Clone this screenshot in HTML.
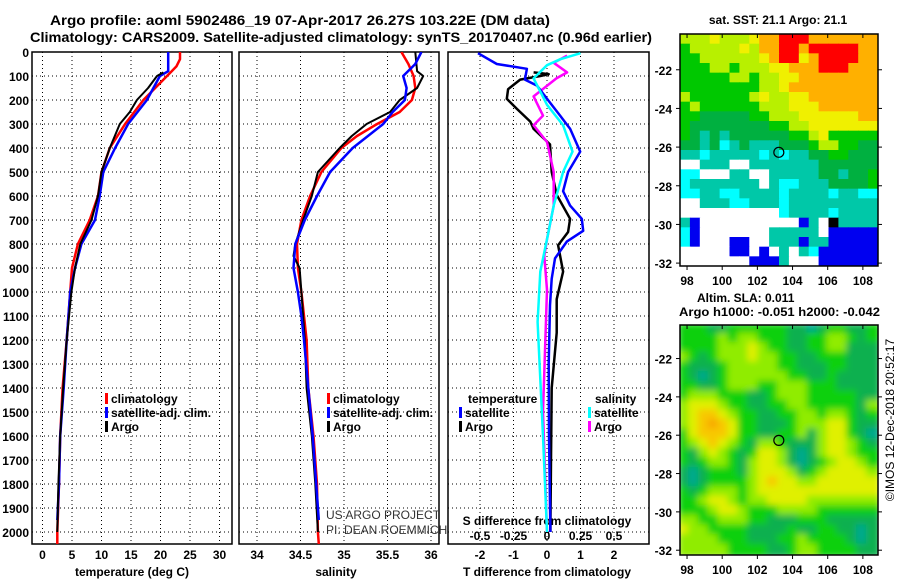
<!DOCTYPE html>
<html><head><meta charset="utf-8">
<style>
html,body{margin:0;padding:0;background:#fff;}
svg{display:block;}
text{font-family:"Liberation Sans",sans-serif;font-weight:bold;fill:#000;}
</style></head>
<body>
<svg id="chart" width="900" height="580" viewBox="0 0 900 580" xmlns="http://www.w3.org/2000/svg">
<defs>
<clipPath id="c1"><rect x="32" y="52" width="200" height="492"/></clipPath>
<clipPath id="c2"><rect x="239" y="52" width="200" height="492"/></clipPath>
<clipPath id="c3"><rect x="448" y="52" width="201" height="492"/></clipPath>
<clipPath id="cm1"><rect x="680" y="34" width="198" height="232"/></clipPath>
<clipPath id="cm2"><rect x="680" y="325" width="198" height="230"/></clipPath>
<filter id="blur" x="-5%" y="-5%" width="110%" height="110%"><feGaussianBlur stdDeviation="3.5"/></filter>
</defs>
<text x="300" y="25" font-size="14" text-anchor="middle" textLength="500" lengthAdjust="spacingAndGlyphs">Argo profile: aoml 5902486_19 07-Apr-2017 26.27S 103.22E (DM data)</text>
<text x="341" y="42" font-size="14" text-anchor="middle" textLength="622" lengthAdjust="spacingAndGlyphs">Climatology: CARS2009. Satellite-adjusted climatology: synTS_20170407.nc (0.96d earlier)</text>
<g id="g"></g>
</svg>
<script>
// ---- data ----
const tDepthClim = [0,30,60,80,100,200,300,400,500,600,700,800,900,1000,1200,1400,1600,1800,2000,2050];
const tempClim   = [23.3,23.3,22.7,21.9,21.1,17.1,14.0,11.4,10.0,9.4,8.0,6.0,5.0,4.7,4.1,3.4,3.0,2.8,2.5,2.5];
const tDepthSat  = [0,80,100,200,300,400,500,600,700,800,900,1000,1200,1400,1600,1800,1950];
const tempSat    = [21.3,21.3,19.9,17.7,14.5,12.3,10.3,9.7,8.9,6.6,5.5,4.7,4.1,3.6,3.0,2.8,2.5];
const tDepthArgo = [85,100,150,200,250,300,400,500,600,700,800,900,1000,1200,1400,1600,1800,2000];
const tempArgo   = [20.5,19.4,17.9,16.0,14.8,13.1,11.4,10.0,9.4,8.3,6.4,5.5,4.9,4.1,3.5,3.0,2.7,2.5];

const sDepthClim = [0,50,100,150,200,250,300,350,400,500,600,700,800,900,1000,1100,1200,1400,1600,1800,2000,2050];
const salClim    = [35.66,35.74,35.80,35.82,35.78,35.64,35.38,35.15,34.97,34.74,34.61,34.51,34.46,34.47,34.51,34.54,34.57,34.59,34.65,34.69,34.70,34.71];
const sDepthSat  = [0,50,100,150,200,250,300,400,500,600,700,800,900,1000,1100,1200,1400,1600,1800,1950];
const salSat     = [35.89,35.82,35.68,35.72,35.70,35.56,35.45,35.10,34.84,34.69,34.55,34.44,34.42,34.47,34.51,34.54,34.59,34.64,34.68,34.71];
const sDepthArgo = [0,80,100,150,200,250,300,350,400,500,600,700,800,850,900,1000,1200,1400,1600,1800,2000];
const salArgo    = [35.82,35.84,35.91,35.84,35.64,35.53,35.26,35.09,34.95,34.70,34.63,34.53,34.44,34.42,34.49,34.51,34.55,34.57,34.63,34.67,34.70];

const dtDepthSat = [5,50,70,115,140,195,265,320,415,500,580,640,695,745,790,860,945,1055,1300,1600,2000];
const dTSat      = [-2.06,-1.5,-0.6,-0.66,-0.3,0,0.39,0.69,0.99,0.63,0.48,0.69,1.04,1.08,0.59,0.24,0.14,0.09,0.05,0.06,0.1];
const dtDepthArgo= [85,92,100,115,155,195,237,290,320,385,500,595,695,750,805,915,1030,1170,1400,1700,2000];
const dTArgo     = [-0.4,0.05,-0.2,-0.8,-1.16,-1.2,-0.9,-0.5,-0.4,0.09,0.14,0.29,0.69,0.63,0.33,0.48,0.29,0.29,0.14,0.12,0.1];
const dsDepthSat = [5,30,55,110,165,220,305,415,500,640,780,915,1125,1600,2000];
const dSSat      = [0.25,0.1,0,-0.1,-0.05,0,0.12,0.19,0.12,0.05,0,-0.05,-0.07,-0.03,0];
const dsDepthArgo= [15,45,85,110,185,265,305,375,500,640,780,850,990,1500,2000];
const dSArgo     = [0.15,0.05,0.15,0.07,-0.1,-0.03,-0.1,0,0.05,0.05,0,-0.02,0,-0.03,0];

const depthTicks = [0,100,200,300,400,500,600,700,800,900,1000,1100,1200,1300,1400,1500,1600,1700,1800,1900,2000];
const tempTicks = [0,5,10,15,20,25,30];
const salTicks = [34,34.5,35,35.5,36];
const salTickLabels = ["34","34.5","35","35.5","36"];
const dTTicks = [-2,-1,0,1,2];
const dSTicks = [-0.5,-0.25,0,0.25,0.5];
const dSTickLabels = ["-0.5","-0.25","0","0.25","0.5"];
const lonTicks = [98,100,102,104,106,108];
const latTicks = [-22,-24,-26,-28,-30,-32];
const argoLon = 103.22, argoLat = -26.27;

const sstRows = [
"LLLYLLLYOORRROOOOOOO","GLLLLLYLOORRORRRRROO","GGLLLLLLYORRYORRRROO","GGGLLGLLLYYOOORRROOO",
"GGGGGLLGLLYYOOOOOOOO","GGGGGGGGLLYOOOOOOOOO","LGGGGGGLYLLYYOOOOOOO","GLGGGGGGLLLYYYOOOOOO",
"GGDDDDDGGLLLYYYYYYOO","GDDDDDDDDGGLLYYYYYYY","GDTDTDDDDDDGGLYGGGGG","DDTDCTDTTTDDDGLLGGDD",
"TTCTTTTTCTCTTDDGGDDD","WWTTTWWTTTTTTTDDDDDD","CCWWWTTWWTTTTTDDTDDG","CTTTTTTTWTCCTTTDDDDG",
"CCTTCCTTTTCTTTTCTTCC","WWTTTCCTTTCTTTTTTTTT","WWWWWWWWWWCTTTTCTTTT","TBWWWWWWWWWWBTWKTTTT",
"CBWWWWWWWTTTTTWBBBBB","CBWWWBBWWTTTBTTBBBBB","WWWWWBBWBWTWTCBBBBBB","WWWWWWWBBBTWWWBBBBBB"];
const slaRows = [
"GGGDDGGGGGGDDTDGGDDG","GGGGLGLLGGGDDGGLLGDG","GGGGLLLYLGGDDGGLLDDD","LGDGLLLYLLGGDDGGGDDD",
"GDDDGLLLLLGGDDDGGDDD","GDTDGLLLLLLGGDDGDDDD","GGDDGLLLGGLLLGGGDDDD","GLLLGGGDDGLLLGGGGGDD",
"LYYYLGGDDGGLLGGGGGDL","LYOOYLGGDDGGLLGLLGDG","LYOROYGGDDDGLLLYYGDD","GYOOOYGGDDGGLDLYYGDT",
"GLYOYLGDLLGDDDLYYLGD","GDLYLGDGYYLDTDLYYLGG","GDGLLGDLYYLDTDGLYYLG","DTDGGGDLYYYLDGLYYYYL",
"DTDGGGGLYOYYLLYYYYYY","GDGLLLGLYYYYYYYYYYYY","GGLYYLGLLYYYYLLLLLLL","GGGLYYLGGGLLLLGGGGGG",
"LLGGLLLGGDDDGGGDDDDD","YLLGGGGDDDDGDDGGDDTD","LLLLGGGDDDGGLGGGGDTD","LLLLLGGGGDDGLLGGGGDD"];

// ---- helpers ----
const NS="http://www.w3.org/2000/svg";
const G=document.getElementById('g');
function mk(tag,attrs,parent){const e=document.createElementNS(NS,tag);for(const k in attrs)e.setAttribute(k,attrs[k]);(parent||G).appendChild(e);return e;}
const yD = d => 52 + d*0.24;
const xT = t => 42.5 + t*5.9;
const xS = s => 257 + (s-34)*87;
const xDT = v => 547 + v*33.5;
const xDS = v => 547 + v*134;
const PB = 544;

function panel(x0,w,name,xticks,xf){
  const g=mk('g',{});
  
  
  depthTicks.forEach(d=>{ if(d>0){const l=mk('line',{x1:x0,x2:x0+w,y1:yD(d),y2:yD(d),stroke:'#000','stroke-width':1,'stroke-dasharray':'1,3'},g);
    }});
  xticks.forEach(v=>{const l=mk('line',{x1:xf(v),x2:xf(v),y1:52,y2:PB,stroke:'#000','stroke-width':1,'stroke-dasharray':'1,3'},g);
    });
  const r=mk('rect',{x:x0,y:52,width:w,height:PB-52,fill:'none',stroke:'#000','stroke-width':1.5},g);
  
  return g;
}
function line(xs,ds,xf,color,clip,name,w){
  const p=xs.map((v,i)=>xf(v).toFixed(1)+','+yD(ds[i]).toFixed(1)).join(' ');
  const l=mk('polyline',{points:p,fill:'none',stroke:color,'stroke-width':w||2.5,'stroke-linejoin':'round','clip-path':'url(#'+clip+')'});
  
  
}
function txt(x,y,s,size,anchor,name,extra){
  const t=mk('text',Object.assign({x:x,y:y,'font-size':size,'text-anchor':anchor||'start'},extra||{}));
  t.textContent=s;
  
  
  return t;
}
function legend(x,y,color,label){
  const r=mk('rect',{x:x,y:y-10,width:3,height:11,fill:color});
  
  
  txt(x+6,y,label,12,'start','legend-entry');
}

// ---- panels ----
panel(32,200,'temperature-panel',tempTicks,xT);
panel(239,200,'salinity-panel',salTicks,xS);
panel(448,201,'difference-panel',dTTicks,xDT);

depthTicks.forEach(d=>txt(29,yD(d)+5,String(d),12,'end','y-tick-label'));
tempTicks.forEach(v=>txt(xT(v),559,String(v),12,'middle','x-tick-label'));
txt(132,576,'temperature (deg C)',12,'middle','x-axis-title');
salTicks.forEach((v,i)=>txt(xS(v),559,salTickLabels[i],12,'middle','x-tick-label'));
txt(336,576,'salinity',12,'middle','x-axis-title');
dTTicks.forEach(v=>txt(xDT(v),559,String(v),12,'middle','x-tick-label'));
txt(547,576,'T difference from climatology',12,'middle','x-axis-title');
dSTicks.forEach((v,i)=>txt(xDS(v),540,dSTickLabels[i],12,'middle','s-diff-tick-label'));
txt(547,525,'S difference from climatology',12,'middle','s-diff-axis-title');

// profiles
line(tempClim,tDepthClim,xT,'#f00','c1','temp-climatology-line');
line(tempSat,tDepthSat,xT,'#00f','c1','temp-satellite-line');
line(tempArgo,tDepthArgo,xT,'#000','c1','temp-argo-line',2);
line(salClim,sDepthClim,xS,'#f00','c2','sal-climatology-line');
line(salArgo,sDepthArgo,xS,'#000','c2','sal-argo-line',2);
line(salSat,sDepthSat,xS,'#00f','c2','sal-satellite-line');
line(dTArgo,dtDepthArgo,xDT,'#000','c3','dT-argo-line');
line(dSArgo,dsDepthArgo,xDS,'#f0f','c3','dS-argo-line');
line(dTSat,dtDepthSat,xDT,'#00f','c3','dT-satellite-line');
line(dSSat,dsDepthSat,xDS,'#0ff','c3','dS-satellite-line');

legend(105,403,'#f00','climatology');
legend(105,417,'#00f','satellite-adj. clim.');
legend(105,431,'#000','Argo');
legend(327,403,'#f00','climatology');
legend(327,417,'#00f','satellite-adj. clim.');
legend(327,431,'#000','Argo');
txt(468,403,'temperature',12,'start','legend-title');
legend(459,417,'#00f','satellite');
legend(459,431,'#000','Argo');
txt(595,403,'salinity',12,'start','legend-title');
legend(588,417,'#0ff','satellite');
legend(588,431,'#f0f','Argo');

txt(326,519,'US ARGO PROJECT',12,'start','credit-project',{style:'font-weight:normal;fill:#333'});
txt(326,534,'PI: DEAN ROEMMICH',12,'start','credit-pi',{style:'font-weight:normal;fill:#333'});

// ---- maps ----
const colSST={R:'#ff0000',O:'#ffb000',Y:'#f0f000',L:'#b8f000',G:'#00c800',D:'#00b040',T:'#00c8a8',C:'#00ffff',W:'#ffffff',B:'#0000f0',K:'#000000'};
const colSLA={G:'#10d010',D:'#10b050',T:'#00a890',L:'#90ec00',Y:'#e0f000',O:'#f8c800',R:'#f8a800'};
function mapPanel(y0,h,rows,cols,clip,name,blur,latTop){
  const g=mk('g',{'clip-path':'url(#'+clip+')'});
  
  
  const inner=mk('g',blur?{filter:'url(#blur)'}:{},g);
  const cw=198/20, ch=h/rows.length;
  rows.forEach((r,i)=>{for(let j=0;j<r.length;j++){
    mk('rect',{x:(680+j*cw-(blur?2:0)).toFixed(2),y:(y0+i*ch-(blur?2:0)).toFixed(2),width:(cw+0.6+(blur?4:0)).toFixed(2),height:(ch+0.6+(blur?4:0)).toFixed(2),fill:cols[r[j]]},inner);
  }});
  const xL=lon=>680+(lon-97.6)*(198/11.26);
  const yL=lat=>y0+(latTop-lat)*(h/12);
  const fr=mk('rect',{x:680,y:y0,width:198,height:h,fill:'none',stroke:'#000','stroke-width':1.5});
  
  lonTicks.forEach(v=>{mk('line',{x1:xL(v),x2:xL(v),y1:y0,y2:y0+4,stroke:'#000'});mk('line',{x1:xL(v),x2:xL(v),y1:y0+h,y2:y0+h+4,stroke:'#000'});
    txt(xL(v),y0+h+19,String(v),12,'middle','lon-tick-label');});
  latTicks.forEach(v=>{mk('line',{x1:676,x2:680,y1:yL(v),y2:yL(v),stroke:'#000'});mk('line',{x1:878,x2:882,y1:yL(v),y2:yL(v),stroke:'#000'});
    txt(672,yL(v)+5,String(v),12,'end','lat-tick-label');});
  const m=mk('circle',{cx:xL(argoLon),cy:yL(argoLat),r:5,fill:'none',stroke:'#000','stroke-width':1.2});
  
  
}
mapPanel(34,232,sstRows,colSST,'cm1','sst-map',false,-20.15);
mapPanel(325,230,slaRows,colSLA,'cm2','sla-map',true,-20.25);
txt(778,24,'sat. SST: 21.1 Argo: 21.1',12,'middle','sst-map-title');
txt(697,302,'Altim. SLA: 0.011',12,'start','sla-map-title');
txt(679,316,'Argo h1000: -0.051 h2000: -0.042',12,'start','sla-argo-heights',{textLength:201,lengthAdjust:'spacingAndGlyphs'});
txt(0,0,'©IMOS 12-Dec-2018 20:52:17',12,'middle','imos-timestamp',{style:'font-weight:normal',transform:'translate(894,420) rotate(-90)'});
</script>
</body></html>
